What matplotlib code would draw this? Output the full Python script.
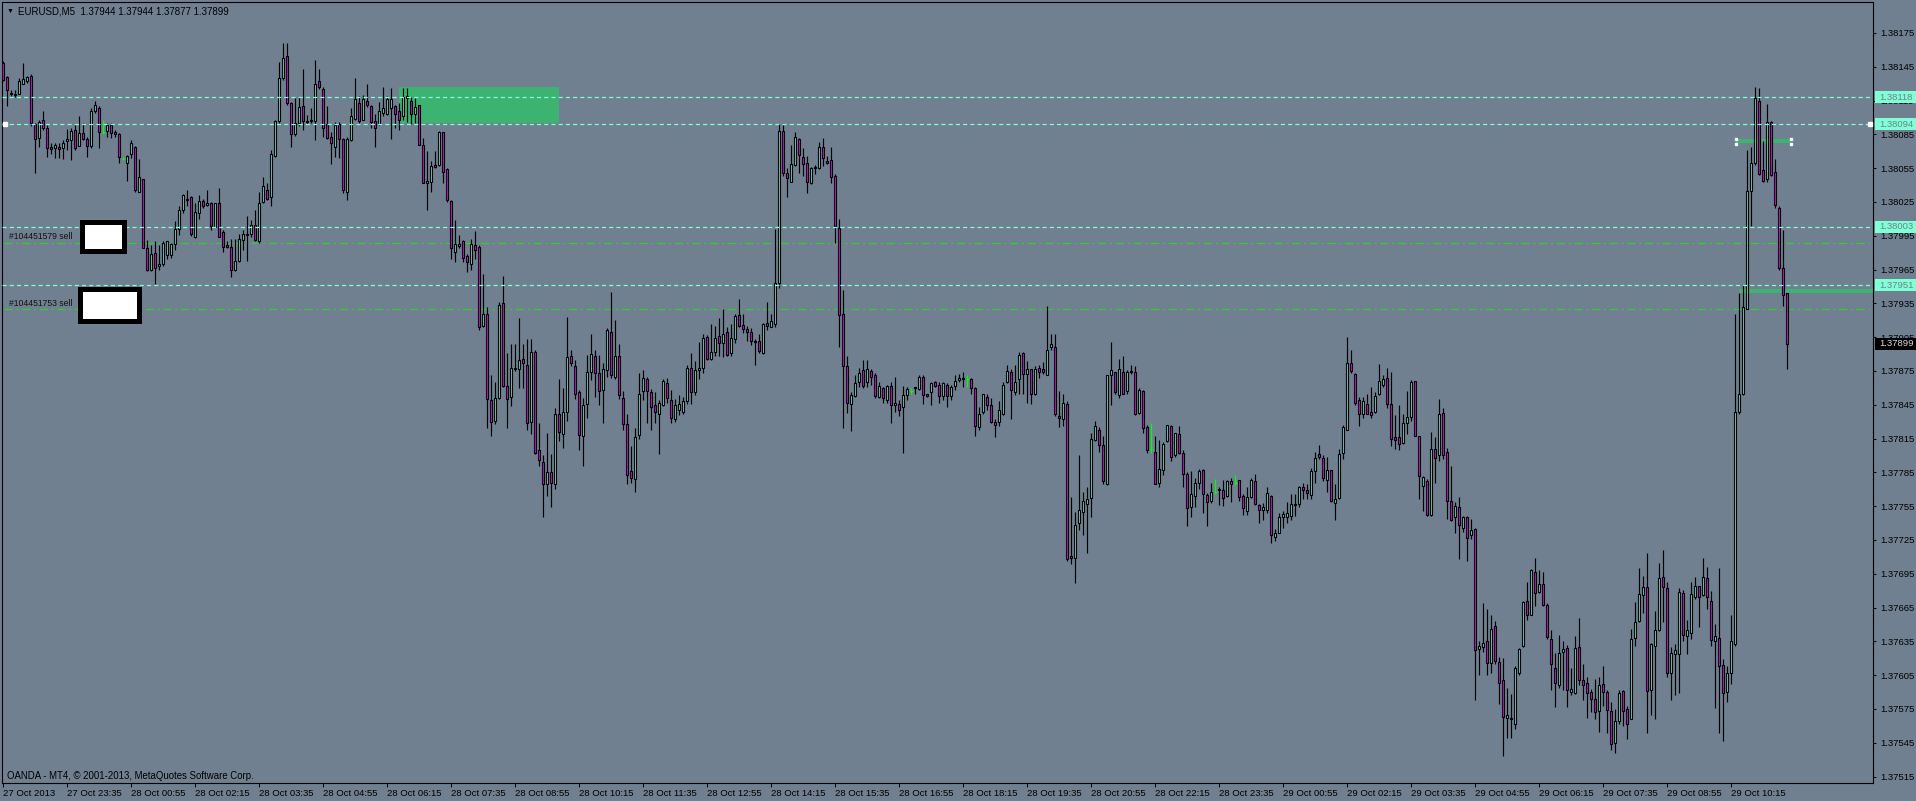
import numpy as np
import matplotlib
matplotlib.use('Agg')
import matplotlib.pyplot as plt
import matplotlib.transforms as mtransforms
from matplotlib.patches import Rectangle

plt.rcParams['font.family'] = ['Liberation Sans', 'DejaVu Sans']
plt.rcParams['lines.scale_dashes'] = False

# EURUSD M5, prices in points (1e-5) above 1.37000
base = 1.37
opens = [
    1148, 1136, 1122, 1120, 1121, 1130, 1132, 1137, 1094, 1082, 1098, 1091, 1074, 1073, 1074, 1073,
    1079, 1080, 1089, 1075, 1086, 1081, 1075, 1106, 1108, 1087, 1088, 1093, 1087, 1085, 1063, 1060,
    1068, 1074, 1034, 1045, 984, 965, 980, 968, 970, 978, 978, 988, 1001, 1018, 1028, 1029,
    994, 1015, 1026, 1022, 1024, 1003, 1024, 998, 987, 985, 965, 973, 991, 996, 997, 1005,
    990, 1025, 1036, 1029, 1066, 1097, 1135, 1155, 1113, 1085, 1095, 1110, 1096, 1097, 1097, 1132,
    1125, 1094, 1083, 1074, 1094, 1081, 1034, 1080, 1099, 1113, 1098, 1115, 1110, 1097, 1094, 1104,
    1103, 1108, 1110, 1106, 1101, 1117, 1115, 1103, 1111, 1076, 1042, 1043, 1058, 1058, 1087, 1054,
    1026, 981, 986, 990, 977, 970, 987, 985, 915, 926, 849, 831, 851, 935, 862, 852,
    877, 877, 886, 880, 830, 892, 805, 794, 775, 785, 775, 837, 819, 839, 888, 879,
    856, 817, 846, 874, 888, 873, 858, 876, 910, 870, 888, 851, 828, 786, 779, 818,
    857, 868, 856, 845, 837, 845, 864, 849, 832, 840, 839, 848, 878, 856, 876, 878,
    905, 886, 892, 906, 900, 910, 891, 903, 925, 916, 912, 910, 902, 902, 891, 918,
    914, 917, 953, 1088, 1051, 1043, 1058, 1081, 1065, 1060, 1042, 1055, 1055, 1074, 1061, 1062,
    1048, 1002, 926, 879, 846, 853, 865, 876, 865, 875, 871, 852, 860, 849, 862, 845,
    846, 843, 854, 857, 860, 859, 870, 855, 856, 865, 863, 853, 863, 853, 862, 867,
    868, 868, 868, 860, 825, 839, 852, 845, 830, 830, 837, 865, 874, 856, 868, 891,
    872, 877, 855, 878, 877, 871, 896, 896, 835, 832, 846, 711, 709, 740, 750, 757,
    762, 814, 823, 809, 775, 871, 874, 854, 874, 857, 874, 874, 838, 857, 825, 806,
    803, 776, 787, 813, 826, 800, 819, 802, 784, 754, 764, 776, 787, 765, 760, 768,
    769, 769, 764, 777, 776, 778, 764, 751, 763, 777, 756, 752, 752, 764, 728, 731,
    745, 745, 746, 756, 757, 772, 769, 765, 786, 801, 798, 778, 787, 758, 762, 802,
    823, 882, 872, 849, 837, 846, 839, 839, 855, 863, 869, 846, 816, 816, 811, 829,
    834, 866, 817, 773, 777, 747, 806, 800, 838, 803, 760, 745, 754, 736, 745, 729,
    735, 628, 630, 635, 616, 649, 617, 601, 567, 567, 562, 607, 631, 671, 658, 697,
    679, 686, 667, 637, 611, 596, 626, 629, 590, 589, 630, 601, 598, 590, 584, 573,
    597, 590, 573, 545, 564, 591, 575, 566, 638, 653, 676, 683, 592, 631, 645, 692,
    682, 607, 624, 624, 678, 640, 642, 674, 684, 676, 691, 671, 635, 638, 614, 590,
    607, 633, 839, 855, 930, 1035, 1060, 1115, 1053, 1045, 1096, 1052, 1020, 966, 944,
]
highs = [
    1150, 1137, 1124, 1124, 1135, 1148, 1137, 1139, 1095, 1098, 1106, 1093, 1077, 1077, 1077, 1080,
    1090, 1091, 1093, 1101, 1095, 1083, 1108, 1115, 1110, 1098, 1095, 1095, 1089, 1086, 1065, 1067,
    1080, 1075, 1063, 1045, 991, 987, 990, 987, 990, 990, 989, 1008, 1021, 1032, 1036, 1030,
    1024, 1031, 1028, 1036, 1025, 1024, 1037, 1000, 990, 992, 992, 997, 1000, 1013, 1009, 1018,
    1034, 1047, 1042, 1071, 1098, 1149, 1166, 1166, 1114, 1117, 1118, 1143, 1102, 1108, 1151, 1143,
    1127, 1110, 1087, 1096, 1096, 1082, 1083, 1108, 1135, 1119, 1120, 1130, 1111, 1103, 1114, 1127,
    1119, 1126, 1111, 1113, 1126, 1126, 1118, 1117, 1111, 1082, 1070, 1061, 1070, 1088, 1087, 1055,
    1027, 1009, 996, 991, 979, 992, 999, 987, 961, 932, 871, 865, 936, 959, 891, 899,
    899, 922, 899, 903, 903, 894, 829, 800, 820, 801, 842, 868, 860, 923, 894, 885,
    858, 851, 889, 908, 894, 889, 882, 913, 945, 920, 899, 857, 837, 808, 824, 873,
    876, 870, 859, 856, 849, 868, 869, 858, 850, 854, 852, 880, 891, 884, 901, 908,
    907, 917, 915, 922, 930, 914, 917, 926, 939, 926, 915, 913, 903, 908, 918, 936,
    926, 1001, 1094, 1093, 1055, 1076, 1087, 1082, 1073, 1066, 1056, 1058, 1078, 1082, 1066, 1074,
    1050, 1010, 947, 888, 856, 871, 878, 885, 885, 877, 873, 865, 861, 863, 865, 870,
    849, 862, 861, 860, 861, 871, 871, 855, 865, 866, 865, 865, 864, 863, 871, 872,
    874, 871, 869, 861, 843, 855, 855, 851, 832, 848, 865, 880, 877, 880, 892, 892,
    884, 877, 879, 880, 883, 933, 908, 908, 857, 855, 848, 763, 750, 800, 768, 772,
    820, 831, 825, 817, 871, 901, 874, 886, 888, 876, 880, 879, 860, 858, 827, 829,
    817, 814, 812, 827, 827, 820, 826, 805, 785, 786, 780, 788, 788, 767, 776, 779,
    772, 778, 778, 780, 783, 778, 766, 772, 780, 784, 757, 758, 772, 765, 735, 749,
    751, 759, 766, 766, 773, 776, 775, 789, 803, 809, 800, 799, 787, 775, 806, 827,
    905, 894, 873, 852, 852, 855, 861, 856, 881, 871, 878, 874, 836, 845, 837, 857,
    867, 866, 817, 782, 779, 821, 816, 850, 842, 807, 791, 759, 763, 746, 746, 744,
    736, 635, 669, 664, 658, 653, 621, 620, 594, 588, 613, 629, 671, 688, 699, 709,
    698, 697, 669, 645, 625, 641, 635, 632, 611, 640, 656, 615, 603, 593, 602, 603,
    613, 592, 581, 575, 592, 592, 578, 646, 670, 700, 693, 713, 634, 662, 705, 716,
    688, 630, 633, 682, 681, 654, 688, 692, 684, 709, 701, 680, 650, 700, 619, 613,
    658, 926, 944, 951, 1071, 1074, 1127, 1126, 1079, 1112, 1097, 1063, 1021, 1000, 944,
]
lows = [
    1132, 1110, 1119, 1118, 1121, 1130, 1131, 1092, 1051, 1074, 1089, 1065, 1068, 1064, 1064, 1063,
    1071, 1062, 1071, 1075, 1080, 1065, 1073, 1104, 1073, 1085, 1083, 1082, 1083, 1060, 1062, 1044,
    1064, 1034, 1034, 984, 964, 964, 952, 965, 968, 974, 975, 982, 996, 1015, 1021, 995,
    993, 1010, 1020, 1021, 1000, 1003, 994, 981, 984, 958, 964, 972, 982, 973, 994, 990,
    989, 1024, 1027, 1021, 1065, 1095, 1133, 1111, 1074, 1084, 1092, 1089, 1094, 1095, 1080, 1125,
    1083, 1081, 1059, 1065, 1064, 1033, 1027, 1079, 1098, 1095, 1098, 1109, 1091, 1074, 1093, 1101,
    1102, 1081, 1091, 1089, 1098, 1096, 1094, 1095, 1076, 1042, 1018, 1034, 1055, 1057, 1042, 1025,
    974, 972, 984, 972, 963, 965, 974, 911, 914, 824, 817, 828, 850, 861, 824, 844,
    875, 860, 860, 823, 819, 801, 791, 745, 764, 754, 770, 813, 807, 831, 879, 850,
    805, 791, 833, 867, 852, 845, 829, 870, 869, 868, 850, 823, 775, 776, 768, 815,
    849, 829, 823, 829, 801, 844, 847, 829, 830, 836, 837, 846, 846, 854, 868, 873,
    885, 885, 888, 888, 887, 888, 888, 900, 914, 909, 902, 898, 880, 891, 890, 911,
    914, 914, 949, 1048, 1029, 1043, 1057, 1051, 1048, 1033, 1041, 1050, 1054, 1057, 1059, 1042,
    989, 896, 824, 838, 822, 852, 861, 860, 861, 863, 851, 851, 847, 847, 829, 839,
    835, 802, 849, 855, 855, 858, 846, 852, 845, 861, 847, 849, 843, 849, 858, 865,
    861, 861, 855, 817, 823, 837, 840, 829, 816, 826, 836, 864, 832, 854, 855, 855,
    847, 846, 854, 869, 872, 871, 894, 835, 825, 826, 706, 704, 687, 734, 729, 713,
    745, 813, 803, 775, 774, 845, 855, 851, 855, 855, 872, 836, 837, 820, 802, 802,
    775, 772, 783, 812, 795, 799, 801, 772, 737, 745, 754, 770, 749, 737, 758, 766,
    756, 755, 763, 759, 774, 760, 747, 747, 762, 756, 740, 743, 749, 722, 724, 731,
    736, 740, 743, 746, 754, 761, 761, 761, 776, 797, 777, 768, 759, 743, 761, 797,
    823, 873, 845, 826, 833, 837, 833, 838, 854, 861, 842, 808, 806, 805, 810, 819,
    831, 817, 761, 751, 746, 746, 776, 795, 797, 744, 742, 731, 708, 732, 706, 726,
    583, 605, 626, 605, 607, 615, 579, 533, 549, 549, 557, 605, 630, 654, 658, 666,
    678, 666, 637, 592, 577, 594, 592, 577, 587, 588, 596, 583, 567, 572, 566, 555,
    578, 554, 539, 536, 562, 560, 548, 566, 631, 652, 660, 554, 570, 566, 644, 652,
    603, 583, 587, 589, 635, 624, 637, 673, 648, 675, 664, 631, 576, 554, 547, 581,
    597, 631, 837, 854, 930, 1004, 1058, 1049, 1043, 1043, 1048, 1020, 965, 933, 877,
]
closes = [
    1133, 1124, 1121, 1121, 1132, 1134, 1136, 1095, 1081, 1096, 1091, 1073, 1072, 1076, 1072, 1077,
    1081, 1088, 1073, 1086, 1081, 1075, 1106, 1111, 1087, 1087, 1093, 1086, 1085, 1065, 1063, 1066,
    1077, 1036, 1047, 984, 965, 979, 966, 970, 989, 990, 988, 1001, 1018, 1031, 1027, 997,
    1016, 1026, 1021, 1024, 1004, 1024, 994, 985, 985, 965, 973, 992, 997, 997, 1005, 991,
    1024, 1039, 1028, 1068, 1097, 1135, 1153, 1113, 1085, 1095, 1109, 1097, 1097, 1098, 1130, 1127,
    1091, 1082, 1077, 1093, 1081, 1036, 1081, 1101, 1116, 1097, 1116, 1111, 1096, 1091, 1106, 1108,
    1116, 1116, 1103, 1098, 1118, 1119, 1103, 1109, 1076, 1042, 1044, 1057, 1056, 1087, 1052, 1027,
    984, 988, 988, 975, 972, 988, 982, 914, 926, 850, 830, 851, 934, 862, 850, 878,
    878, 885, 882, 829, 892, 802, 796, 775, 785, 776, 837, 821, 839, 887, 882, 855,
    818, 845, 874, 890, 873, 857, 877, 911, 871, 888, 854, 828, 783, 780, 816, 855,
    869, 857, 843, 839, 847, 866, 851, 833, 845, 846, 848, 878, 856, 876, 878, 904,
    886, 892, 904, 900, 908, 889, 904, 924, 915, 912, 910, 902, 901, 893, 917, 915,
    919, 953, 1088, 1051, 1046, 1059, 1083, 1067, 1059, 1043, 1055, 1056, 1074, 1064, 1060, 1047,
    1004, 925, 879, 847, 854, 864, 873, 862, 877, 870, 853, 862, 851, 862, 845, 847,
    840, 854, 859, 857, 861, 870, 854, 853, 864, 862, 853, 864, 853, 861, 866, 869,
    869, 868, 860, 826, 837, 855, 845, 830, 827, 840, 863, 875, 858, 865, 889, 872,
    877, 855, 877, 874, 874, 894, 899, 837, 833, 847, 708, 709, 738, 752, 760, 761,
    815, 826, 809, 777, 871, 876, 856, 877, 855, 874, 875, 837, 858, 824, 805, 806,
    775, 788, 810, 827, 799, 820, 802, 784, 753, 766, 776, 786, 766, 759, 768, 768,
    770, 762, 777, 775, 776, 763, 753, 763, 778, 757, 752, 754, 767, 729, 731, 745,
    748, 749, 757, 757, 772, 769, 767, 786, 798, 799, 780, 787, 760, 761, 801, 825,
    882, 875, 847, 837, 848, 837, 836, 853, 866, 868, 846, 815, 814, 810, 829, 834,
    865, 817, 782, 781, 747, 806, 798, 837, 800, 760, 743, 755, 738, 745, 727, 734,
    627, 631, 634, 616, 646, 618, 598, 568, 570, 566, 611, 628, 670, 658, 698, 678,
    686, 667, 639, 615, 598, 625, 628, 592, 593, 629, 601, 596, 589, 584, 572, 596,
    590, 574, 544, 564, 589, 573, 562, 637, 652, 677, 683, 591, 633, 645, 691, 683,
    607, 625, 627, 679, 641, 645, 677, 684, 674, 692, 674, 636, 640, 613, 589, 607,
    635, 839, 855, 932, 1035, 1060, 1117, 1050, 1044, 1096, 1049, 1022, 966, 942, 899,
]

time_labels = ['27 Oct 2013', '27 Oct 23:35', '28 Oct 00:55', '28 Oct 02:15', '28 Oct 03:35',
               '28 Oct 04:55', '28 Oct 06:15', '28 Oct 07:35', '28 Oct 08:55', '28 Oct 10:15',
               '28 Oct 11:35', '28 Oct 12:55', '28 Oct 14:15', '28 Oct 15:35', '28 Oct 16:55',
               '28 Oct 18:15', '28 Oct 19:35', '28 Oct 20:55', '28 Oct 22:15', '28 Oct 23:35',
               '29 Oct 00:55', '29 Oct 02:15', '29 Oct 03:35', '29 Oct 04:55', '29 Oct 06:15',
               '29 Oct 07:35', '29 Oct 08:55', '29 Oct 10:15']
bars_per_label = 16

order_levels = [1.38118, 1.38094, 1.38003, 1.37951]   # cyan dashed lines
stop_levels = [1.37989, 1.37930]                        # green dash-dot lines
order_names = ['#104451579 sell', '#104451753 sell']
price_ticks = [1.38175 - 0.0003 * k for k in range(23)]

bg = '#708090'
bull = '#40E0D0'
bear = '#E600E6'
cyan = '#7FFFD4'
green = '#3CB371'

o = base + np.array(opens) / 1e5
h = base + np.array(highs) / 1e5
l = base + np.array(lows) / 1e5
c = base + np.array(closes) / 1e5
x = np.arange(len(o))

W, H = 1916, 801
fig = plt.figure(figsize=(W / 100, H / 100), dpi=100, facecolor=bg)
ax = fig.add_axes([2 / W, 18 / H, 1871 / W, 781 / H], facecolor=bg)
ax.set_xlim(-0.325, 467.4)
ax.set_ylim(1.375093, 1.382025)
px = (1.382025 - 1.375093) / 781   # price per pixel

# candles
up = c > o
dn = c < o
flat = c == o
ax.vlines(x[~flat], l[~flat], h[~flat], color='black', lw=0.85, zorder=3)
ax.vlines(x[flat], l[flat], h[flat], color='#00FF00', lw=0.85, zorder=3)
ax.hlines(o[flat], x[flat] - 0.35, x[flat] + 0.35, color='#00FF00', lw=0.85, zorder=3)
ax.bar(x[up], (c - o)[up], bottom=o[up], width=0.55, color=bull,
       edgecolor='black', linewidth=0.8, zorder=4)
ax.bar(x[dn], (o - c)[dn], bottom=c[dn], width=0.55, color=bear,
       edgecolor='black', linewidth=0.8, zorder=4)

# objects
ax.add_patch(Rectangle((98.9, 1.380948), 40.0, 0.000322, color=green, lw=0, zorder=1))
for lv in order_levels:
    ax.axhline(lv, color=cyan, lw=0.9, dashes=(3, 2.2), zorder=5)
for lv, name in zip(stop_levels, order_names):
    ax.axhline(lv, xmin=0.001, xmax=0.998, color='#32CD32', lw=0.9,
               dashes=(6, 2.6, 1.5, 2.6), zorder=2)
    ax.text(1.4, lv + 6 * px, name, fontsize=6.2, color='#111111', va='center', zorder=6)

# white label boxes next to the order names
ax.add_patch(Rectangle((19.55, 1.379819), 10.5, 0.000249, facecolor='white',
                       edgecolor='black', lw=3.6, joinstyle='miter', zorder=6))
ax.add_patch(Rectangle((19.05, 1.379198), 14.75, 0.000284, facecolor='white',
                       edgecolor='black', lw=3.6, joinstyle='miter', zorder=6))

# trend lines on the right
ax.hlines(1.37946, 433.9, 467.4, color=green, lw=2.9, zorder=2)
ax.hlines(1.38079, 433.2, 446.9, color=green, lw=2.9, zorder=2)
for xe in (433.2, 446.9):
    ax.plot([xe, xe], [1.38079 + 2.5 * px, 1.38079 - 2.5 * px], ls='none', marker='s',
            ms=1.6, color='white', zorder=7)
ax.plot([0.4, 466.7], [1.38094, 1.38094], ls='none', marker='s', ms=2.2,
        color='white', zorder=7)

# axes styling
for s in ax.spines.values():
    s.set_color('black')
    s.set_linewidth(0.8)
ax.yaxis.tick_right()
ax.set_yticks(price_ticks)
ax.set_yticklabels([f'{p:.5f}' for p in price_ticks])
ax.tick_params(axis='y', direction='out', length=2.5, width=0.7, pad=2.5,
               labelsize=6.8, colors='black')
ax.set_xticks(x[::bars_per_label][:len(time_labels)])
ax.set_xticklabels(time_labels)
ax.tick_params(axis='x', direction='out', length=3, width=0.7, pad=1.2,
               labelsize=6.8, colors='black')
for t in ax.get_xticklabels():
    t.set_ha('left')

# highlighted price labels on the right scale
tr = mtransforms.blended_transform_factory(fig.transFigure, ax.transData)
for lv in order_levels:
    ax.add_patch(Rectangle((1875 / W, lv - 6 * px), 41 / W, 12 * px, transform=tr,
                           color=cyan, lw=0, clip_on=False, zorder=8))
    ax.text(1879 / W, lv, f'{lv:.5f}', transform=tr, fontsize=6.8, color=bg,
            va='center', clip_on=False, zorder=9)
last = c[-1]
ax.add_patch(Rectangle((1875 / W, last - 6 * px), 41 / W, 12 * px, transform=tr,
                       color='black', lw=0, clip_on=False, zorder=8))
ax.text(1879 / W, last, f'{last:.5f}', transform=tr, fontsize=6.8, color='#d8d8d8',
        va='center', clip_on=False, zorder=9)

# header and footer texts
fig.text(7 / W, 1 - 11 / H, '▼', fontsize=5, va='center', color='black')
fig.text(18 / W, 1 - 11 / H,
         f'EURUSD,M5  {o[-1]:.5f} {h[-1]:.5f} {l[-1]:.5f} {c[-1]:.5f}',
         fontsize=7, va='center', color='black')
fig.text(7 / W, 1 - 776 / H, 'OANDA - MT4, © 2001-2013, MetaQuotes Software Corp.',
         fontsize=6.9, va='center', color='black')

fig.savefig('out.png', dpi=100, facecolor=bg)
